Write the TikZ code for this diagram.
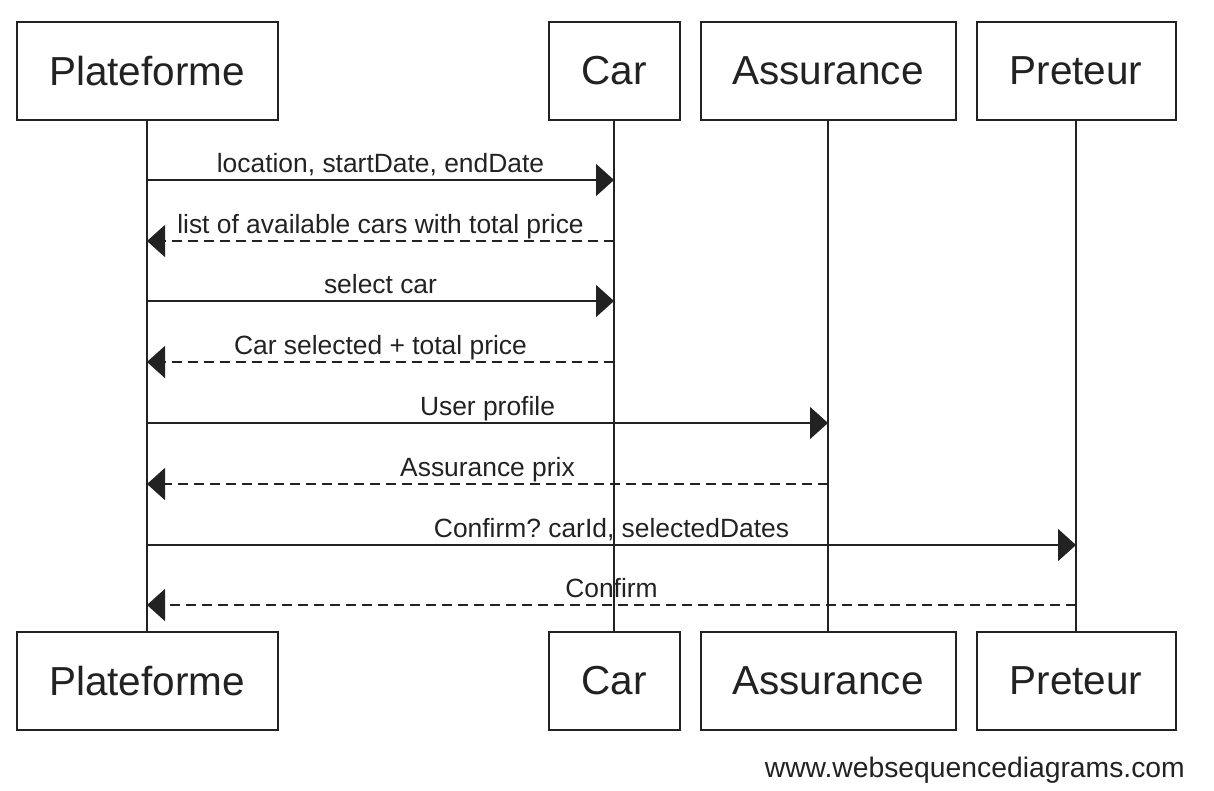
\documentclass[tikz,border=0pt]{standalone}
\usepackage{fontspec}
\setmainfont{Liberation Sans}
\usetikzlibrary{arrows.meta}
\definecolor{ink}{HTML}{222222}
\frenchspacing
\tikzset{
  actor/.style={draw=ink, line width=2pt, fill=white, minimum height=98pt, inner sep=0pt, font=\fontsize{40.5}{44}\selectfont, text=ink},
  life/.style={draw=ink, line width=1.8pt},
  msg/.style={draw=ink, line width=1.6pt, -{Triangle[length=18pt,width=32pt]}},
  reply/.style={msg, dash pattern=on 10pt off 6pt},
  lbl/.style={font=\fontsize{26.4}{30}\selectfont, text=ink, inner sep=0pt},
}
\begin{document}
\begin{tikzpicture}[x=1pt,y=-1pt]
\useasboundingbox (0,0) rectangle (1214,790);
% top actors
\node[actor, minimum width=261pt] (P) at (147,71) {Plateforme};
\node[actor, minimum width=131pt] (C) at (614,71) {Car};
\node[actor, minimum width=255pt] (A) at (828,71) {Assurance};
\node[actor, minimum width=199pt] (R) at (1076,71) {Preteur};
% bottom actors
\node[actor, minimum width=261pt] (P2) at (147,681) {Plateforme};
\node[actor, minimum width=131pt] (C2) at (614,681) {Car};
\node[actor, minimum width=255pt] (A2) at (828,681) {Assurance};
\node[actor, minimum width=199pt] (R2) at (1076,681) {Preteur};
% lifelines
\draw[life] (P.south) -- (P2.north);
\draw[life] (C.south) -- (C2.north);
\draw[life] (A.south) -- (A2.north);
\draw[life] (R.south) -- (R2.north);
% message anchor coordinates
\coordinate (p1) at (P.south |- 0,180);  \coordinate (c1) at (C.south |- 0,180);
\coordinate (p2) at (P.south |- 0,241);  \coordinate (c2) at (C.south |- 0,241);
\coordinate (p3) at (P.south |- 0,301);  \coordinate (c3) at (C.south |- 0,301);
\coordinate (p4) at (P.south |- 0,362);  \coordinate (c4) at (C.south |- 0,362);
\coordinate (p5) at (P.south |- 0,423);  \coordinate (a5) at (A.south |- 0,423);
\coordinate (p6) at (P.south |- 0,484);  \coordinate (a6) at (A.south |- 0,484);
\coordinate (p7) at (P.south |- 0,545);  \coordinate (r7) at (R.south |- 0,545);
\coordinate (p8) at (P.south |- 0,605);  \coordinate (r8) at (R.south |- 0,605);
% messages
\draw[msg] (p1) -- (c1) node[lbl, midway, anchor=base, yshift=7.5pt] (m1) {location, startDate, endDate};
\draw[reply] (c2) -- (p2) node[lbl, midway, anchor=base, yshift=7.5pt] (m2) {list of available cars with total price};
\draw[msg] (p3) -- (c3) node[lbl, midway, anchor=base, yshift=7.5pt] (m3) {select car};
\draw[reply] (c4) -- (p4) node[lbl, midway, anchor=base, yshift=7.5pt] (m4) {Car selected + total price};
\draw[msg] (p5) -- (a5) node[lbl, midway, anchor=base, yshift=7.5pt] (m5) {User profile};
\draw[reply] (a6) -- (p6) node[lbl, midway, anchor=base, yshift=7.5pt] (m6) {Assurance prix};
\draw[msg] (p7) -- (r7) node[lbl, midway, anchor=base, yshift=7.5pt] (m7) {Confirm? carId, selectedDates};
\draw[reply] (r8) -- (p8) node[lbl, midway, anchor=base, yshift=7.5pt] (m8) {Confirm};
% watermark
\node[font=\fontsize{28.3}{32}\selectfont, text=ink, anchor=base east, inner sep=0pt] (wm) at (1185,777) {www.websequencediagrams.com};
\end{tikzpicture}
\end{document}
